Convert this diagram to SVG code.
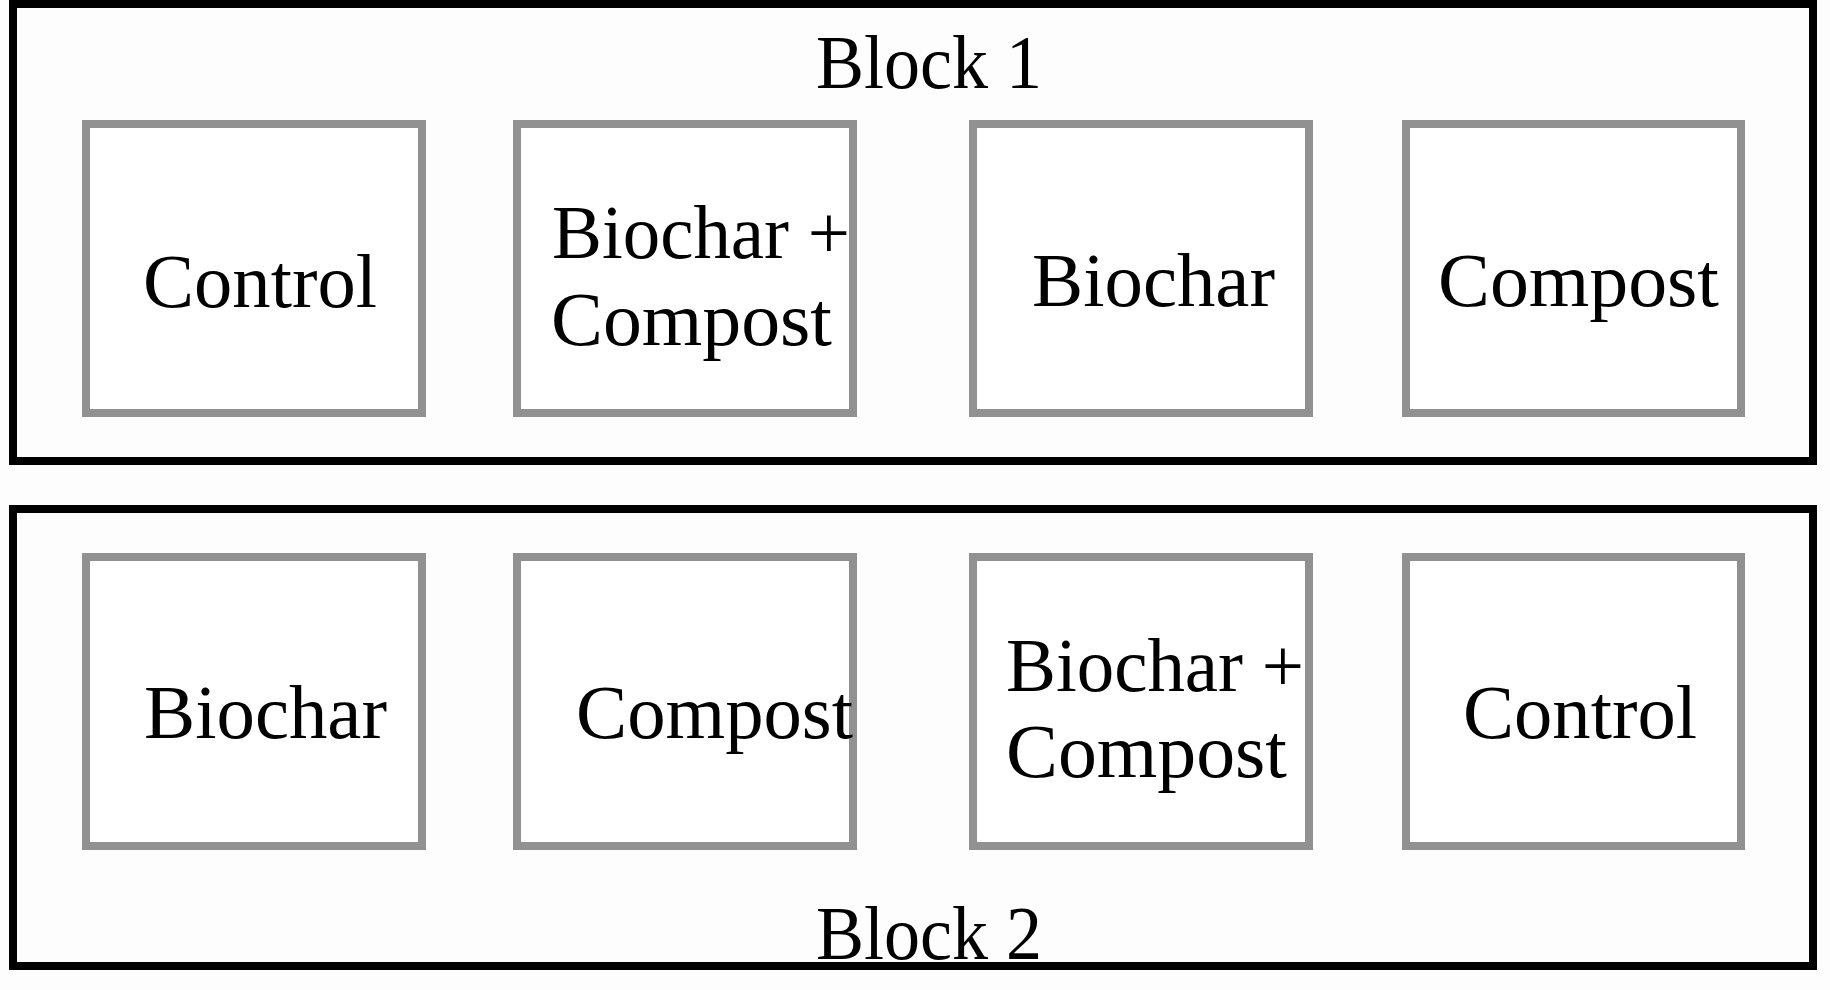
<svg xmlns="http://www.w3.org/2000/svg" width="1830" height="990" viewBox="0 0 1830 990">
<style>
.block{fill:none;stroke:#000;stroke-width:8}
.plot{fill:#fff;stroke:#919191;stroke-width:8}
.t{font-family:"Liberation Serif","Times New Roman",serif;font-size:77px;fill:#000}
</style>
<rect x="0" y="0" width="1830" height="990" fill="#fdfdfd"/>
<g id="block1">
<rect class="block" x="13" y="4" width="1800" height="457"/>
<text class="t" x="816" y="88" textLength="226" lengthAdjust="spacingAndGlyphs">Block 1</text>
</g>
<g id="block2">
<rect class="block" x="13" y="509" width="1800" height="457"/>
<text class="t" x="816" y="959" textLength="226" lengthAdjust="spacingAndGlyphs">Block 2</text>
</g>
<g id="b1-control">
<rect class="plot" x="86" y="124" width="336" height="289"/>
<text class="t" x="143" y="307" textLength="234" lengthAdjust="spacingAndGlyphs">Control</text>
</g>
<g id="b1-biochar-compost">
<rect class="plot" x="517" y="124" width="336" height="289"/>
<text class="t" x="552" y="258" textLength="298" lengthAdjust="spacingAndGlyphs">Biochar +</text>
<text class="t" x="551" y="345" textLength="281" lengthAdjust="spacingAndGlyphs">Compost</text>
</g>
<g id="b1-biochar">
<rect class="plot" x="973" y="124" width="336" height="289"/>
<text class="t" x="1032" y="306" textLength="243" lengthAdjust="spacingAndGlyphs">Biochar</text>
</g>
<g id="b1-compost">
<rect class="plot" x="1406" y="124" width="335" height="289"/>
<text class="t" x="1438" y="306" textLength="281" lengthAdjust="spacingAndGlyphs">Compost</text>
</g>
<g id="b2-biochar">
<rect class="plot" x="86" y="557" width="336" height="289"/>
<text class="t" x="144" y="738" textLength="243" lengthAdjust="spacingAndGlyphs">Biochar</text>
</g>
<g id="b2-compost">
<rect class="plot" x="517" y="557" width="336" height="289"/>
<text class="t" x="576" y="738" textLength="277" lengthAdjust="spacingAndGlyphs">Compost</text>
</g>
<g id="b2-biochar-compost">
<rect class="plot" x="973" y="557" width="336" height="289"/>
<text class="t" x="1006" y="691" textLength="298" lengthAdjust="spacingAndGlyphs">Biochar +</text>
<text class="t" x="1006" y="777" textLength="281" lengthAdjust="spacingAndGlyphs">Compost</text>
</g>
<g id="b2-control">
<rect class="plot" x="1406" y="557" width="335" height="289"/>
<text class="t" x="1463" y="738" textLength="234" lengthAdjust="spacingAndGlyphs">Control</text>
</g>
<g id="connectors"></g>
</svg>
